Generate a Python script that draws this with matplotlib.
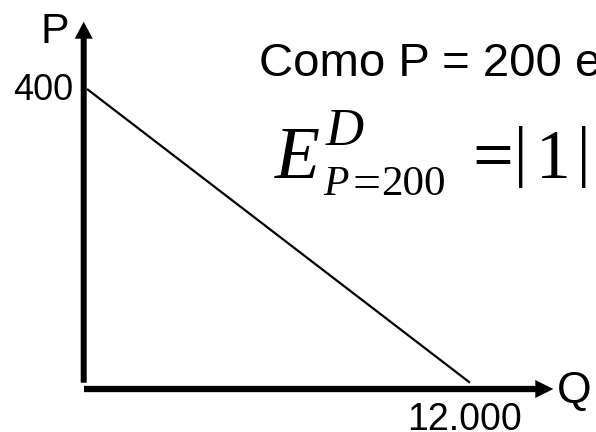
import matplotlib
matplotlib.use("Agg")
import matplotlib.pyplot as plt
from matplotlib.patches import FancyArrow
from matplotlib.transforms import IdentityTransform

# Data
quantity = [0, 12000]
price = [400, 0]
p_label = "400"
q_label = "12.000"

W, H = 596, 432
fig = plt.figure(figsize=(W / 100, H / 100), dpi=100)
ax = fig.add_axes([0, 0, 1, 1])
ax.set_axis_off()

# map data so that (0,400) -> px(87,89) and (12000,0) -> px(470,382.7)
sx = 12000 / (470 - 87)
sy = 400 / (382.7 - 89)
ax.set_xlim(-87 * sx, (W - 87) * sx)
ax.set_ylim(-(H - 382.7) * sy, 400 + 89 * sy)

ax.plot(quantity, price, color="black", lw=1.6, solid_capstyle="butt")

def disp(x, y):
    return x, H - y

# axes arrows (display pixel coords)
x0, y0 = disp(83.7, 382.7)
_, yt = disp(83.7, 21.7)
fig.patches.append(FancyArrow(x0, y0, 0, yt - y0, width=6, head_width=18,
                              head_length=17, length_includes_head=True,
                              color="black", lw=0, transform=IdentityTransform(),
                              figure=fig))
x1, y1 = disp(84, 389)
fig.patches.append(FancyArrow(x1, y1, 553.3 - 84, 0, width=6.3, head_width=18,
                              head_length=18, length_includes_head=True,
                              color="black", lw=0, transform=IdentityTransform(),
                              figure=fig))

def ftext(x, y, s, **kw):
    fig.text(x / W, 1 - y / H, s, **kw)

sans = "Liberation Sans"
serif = "Liberation Serif"

ftext(40, 43, "P", fontsize=31, family=sans, ha="left", va="baseline")
ftext(73, 100, p_label, fontsize=26, family=sans, ha="right", va="baseline")
ftext(407, 430, q_label, fontsize=27, family=sans, ha="left", va="baseline")
ftext(557, 403, "Q", fontsize=32, family=sans, ha="left", va="baseline")
ftext(259, 76, "Como P = 200 e", fontsize=34, family=sans, ha="left", va="baseline")

# formula pieces
ftext(275, 178, "E", fontsize=53, family=serif, style="italic", ha="left", va="baseline")
ftext(326, 145, "D", fontsize=38, family=serif, style="italic", ha="left", va="baseline")
ftext(323, 195, "P", fontsize=30, family=serif, style="italic", ha="left", va="baseline")
ftext(366.5, 198, "=", fontsize=36, family=serif, ha="center", va="baseline")
ftext(381, 195, "200", fontsize=31, family=serif, ha="left", va="baseline")
ftext(493, 179, "=", fontsize=52, family=serif, ha="center", va="baseline")
ftext(521, 174, "|", fontsize=48, family=serif, ha="center", va="baseline")
ftext(553, 178, "1", fontsize=50, family=serif, ha="center", va="baseline")
ftext(584, 174, "|", fontsize=48, family=serif, ha="center", va="baseline")

fig.savefig("out.png", dpi=100)
